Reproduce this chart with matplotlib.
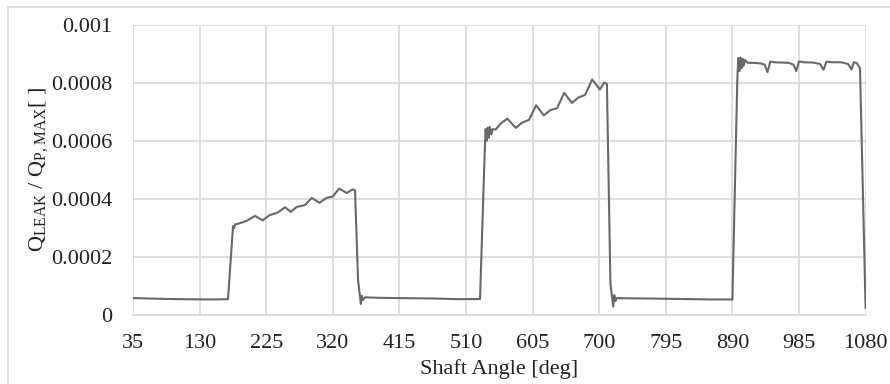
import matplotlib.pyplot as plt
from matplotlib.patches import Rectangle

plt.rcParams['font.family'] = ['Liberation Serif', 'DejaVu Serif']
plt.rcParams['mathtext.fontset'] = 'custom'
plt.rcParams['mathtext.rm'] = 'Liberation Serif'

# shaft angle [deg] and normalised leakage
angle = [35, 60, 90, 120, 150, 170.5,
         177.7, 179, 180.5, 183, 190, 197, 209, 220, 230, 241, 252, 260, 268.5,
         280, 290, 301, 311, 320, 329, 340, 348, 351.7,
         356, 360, 361.5, 363, 366, 380, 420, 460, 500, 530,
         537, 538, 539.5, 541, 542.5, 544, 546, 548, 552, 560, 569, 581, 590,
         600, 610, 621, 630, 640, 650, 661, 670, 680, 690, 701, 707, 711,
         716, 720, 721.5, 723, 725, 740, 780, 820, 860, 890,
         897, 898.5, 900, 901.5, 903, 904.5, 906, 908, 912, 920, 930, 936,
         940, 944, 950, 960, 970, 977, 981, 985, 992, 1005, 1015, 1020,
         1024, 1032, 1045, 1055, 1060, 1063, 1067, 1072, 1080]
leak = [0.0000585, 0.0000565, 0.000055, 0.000054, 0.0000535, 0.0000545,
        0.000306, 0.000298, 0.000312, 0.000313, 0.000318, 0.000324, 0.000341, 0.000326,
        0.000344, 0.000352, 0.000371, 0.000355, 0.000372,
        0.000378, 0.000403, 0.000386, 0.000403, 0.000408, 0.000435, 0.00042, 0.000432,
        0.00043,
        0.00012, 0.000038, 0.000066, 0.000052, 0.000061, 0.0000595, 0.000058,
        0.000057, 0.0000545, 0.000055,
        0.000585, 0.00064, 0.0006, 0.000645, 0.00061, 0.000648, 0.000622, 0.00064,
        0.000638, 0.00066, 0.000676, 0.000644, 0.000662,
        0.000672, 0.000722, 0.000687, 0.000705, 0.000712, 0.000765, 0.00073,
        0.000748, 0.000758, 0.000811, 0.000776, 0.0008, 0.000795,
        0.00011, 0.000029, 0.000068, 0.000048, 0.000058, 0.0000575, 0.0000565,
        0.000055, 0.0000535, 0.0000535,
        0.00081, 0.000885, 0.00084, 0.000886, 0.00085, 0.000882, 0.000858,
        0.000878, 0.000868, 0.000868, 0.000866, 0.000862, 0.000836, 0.000872,
        0.00087, 0.000869, 0.000868, 0.000862, 0.00084, 0.000873, 0.00087,
        0.000869, 0.000864, 0.000844, 0.000872, 0.00087, 0.00087, 0.000864,
        0.000845, 0.00087, 0.000868, 0.00085, 0.000024]
xticks = [35, 130, 225, 320, 415, 510, 605, 700, 795, 890, 985, 1080]
yticks = [0, 0.0002, 0.0004, 0.0006, 0.0008, 0.001]
ytick_labels = ['0', '0.0002', '0.0004', '0.0006', '0.0008', '0.001']

fig = plt.figure(figsize=(8.9, 3.84), dpi=100)
ax = fig.add_axes([133 / 890, 1 - 315 / 384, (865.6 - 133) / 890, (315 - 24.5) / 384])

ax.plot(angle, leak, color='#6b6667', linewidth=1.5)

ax.set_xlim(35, 1080)
ax.set_ylim(0, 0.001)
ax.set_xticks(xticks)
ax.set_yticks(yticks)
ax.set_yticklabels(ytick_labels)
ax.tick_params(length=0, labelsize=16, colors='#222222')
ax.tick_params(axis='x', pad=14)
ax.tick_params(axis='y', pad=15)
ax.grid(True, color='#d9d9d9', linewidth=1.2)
ax.set_axisbelow(True)
for side in ['top', 'right', 'left']:
    ax.spines[side].set_visible(False)
ax.spines['bottom'].set_color('#d9d9d9')
ax.spines['bottom'].set_linewidth(1.2)

ax.set_xlabel('Shaft Angle [deg]', fontsize=16, color='#222222', labelpad=4)
ax.set_ylabel(r'$\mathrm{Q_{LEAK}}$ / $\mathrm{Q_{P,MAX}}$[ ]', fontsize=16, color='#222222', labelpad=1)

# outer chart border
fig.patches.append(Rectangle((8 / 890, -0.1), 1.0, 1 - 7.5 / 384 + 0.1,
                             transform=fig.transFigure, fill=False,
                             edgecolor='#d9d9d9', linewidth=1.2))

fig.savefig('out.png', dpi=100)
